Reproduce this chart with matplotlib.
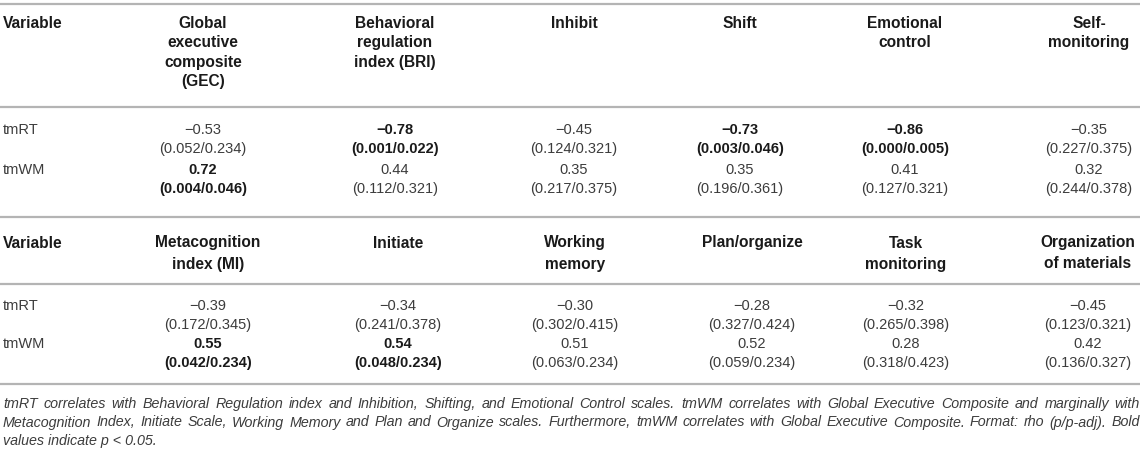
import matplotlib
matplotlib.use("Agg")
import matplotlib.pyplot as plt

# ---------------- data ----------------
row_labels = ["tmRT", "tmWM"]

headers1 = ["Global\nexecutive\ncomposite\n(GEC)", "Behavioral\nregulation\nindex (BRI)",
            "Inhibit", "Shift", "Emotional\ncontrol", "Self-\nmonitoring"]
rho1_rt = [-0.53, -0.78, -0.45, -0.73, -0.86, -0.35]
p1_rt = [0.052, 0.001, 0.124, 0.003, 0.000, 0.227]
padj1_rt = [0.234, 0.022, 0.321, 0.046, 0.005, 0.375]
rho1_wm = [0.72, 0.44, 0.35, 0.35, 0.41, 0.32]
p1_wm = [0.004, 0.112, 0.217, 0.196, 0.127, 0.244]
padj1_wm = [0.046, 0.321, 0.375, 0.361, 0.321, 0.378]

headers2 = ["Metacognition\nindex (MI)", "Initiate", "Working\nmemory",
            "Plan/organize", "Task\nmonitoring", "Organization\nof materials"]
rho2_rt = [-0.39, -0.34, -0.30, -0.28, -0.32, -0.45]
p2_rt = [0.172, 0.241, 0.302, 0.327, 0.265, 0.123]
padj2_rt = [0.345, 0.378, 0.415, 0.424, 0.398, 0.321]
rho2_wm = [0.55, 0.54, 0.51, 0.52, 0.28, 0.42]
p2_wm = [0.042, 0.048, 0.063, 0.059, 0.318, 0.136]
padj2_wm = [0.234, 0.234, 0.234, 0.234, 0.423, 0.327]

foot_lines = [
    "tmRT correlates with Behavioral Regulation index and Inhibition, Shifting, and Emotional Control scales. tmWM correlates with Global Executive Composite and marginally with",
    "Metacognition Index, Initiate Scale, Working Memory and Plan and Organize scales. Furthermore, tmWM correlates with Global Executive Composite. Format: rho (p/p-adj). Bold",
    "values indicate p < 0.05.",
]

# ---------------- layout ----------------
W, H = 1145, 462
FONT = "Liberation Sans"
HDR_SIZE = 11.2
VAL_SIZE = 10.5
FOOT_SIZE = 10.3
HDR_COLOR = "#1a1a1a"
VAL_COLOR = "#3c3c3c"
RULE_COLOR = "#b4b4b4"

x_left = 3
x_right = 1140
cols1 = [203, 395, 574, 740, 905, 1089]
cols2 = [208, 398, 575, 752, 906, 1088]

fig = plt.figure(figsize=(W / 100, H / 100), dpi=100)
ax = fig.add_axes([0, 0, 1, 1])
ax.set_xlim(0, W)
ax.set_ylim(H, 0)
ax.axis("off")


def rule(y):
    ax.plot([0, x_right], [y, y], color=RULE_COLOR, lw=1.6, solid_capstyle="butt")


def fmt_rho(v):
    s = f"{abs(v):.2f}"
    return ("\u2212" + s) if v < 0 else s


def draw_table(headers, cols, y_hdr, hdr_step, y_rows, data):
    ax.text(x_left, y_hdr, "Variable", ha="left", va="center", fontsize=HDR_SIZE,
            fontweight="bold", family=FONT, color=HDR_COLOR)
    for h, cx in zip(headers, cols):
        for i, line in enumerate(h.split("\n")):
            ax.text(cx, y_hdr + i * hdr_step, line, ha="center", va="center",
                    fontsize=HDR_SIZE, fontweight="bold", family=FONT, color=HDR_COLOR)
    for r, (label, (rho, p, padj)) in enumerate(zip(row_labels, data)):
        y1, y2 = y_rows[2 * r], y_rows[2 * r + 1]
        ax.text(x_left, y1, label, ha="left", va="center", fontsize=VAL_SIZE,
                family=FONT, color=VAL_COLOR)
        for cx, rv, pv, pa in zip(cols, rho, p, padj):
            bold = pv < 0.05
            wt = "bold" if bold else "normal"
            col = HDR_COLOR if bold else VAL_COLOR
            ax.text(cx, y1, fmt_rho(rv), ha="center", va="center", fontsize=VAL_SIZE,
                    fontweight=wt, family=FONT, color=col)
            ax.text(cx, y2, f"({pv:.3f}/{pa:.3f})", ha="center", va="center",
                    fontsize=VAL_SIZE, fontweight=wt, family=FONT, color=col)


rule(4)
draw_table(headers1, cols1, 23, 19.5, [130, 149.5, 169.5, 189],
           [(rho1_rt, p1_rt, padj1_rt), (rho1_wm, p1_wm, padj1_wm)])
rule(107)
rule(217)
draw_table(headers2, cols2, 243, 21, [306, 325, 344, 363],
           [(rho2_rt, p2_rt, padj2_rt), (rho2_wm, p2_wm, padj2_wm)])
rule(284)
rule(384)

# footnote, justified
renderer = fig.canvas.get_renderer()
foot_y = [404, 422.5, 441]
for li, (line, y) in enumerate(zip(foot_lines, foot_y)):
    if li < len(foot_lines) - 1:
        words = line.split(" ")
        texts = [ax.text(0, y, w, ha="left", va="center", fontsize=FOOT_SIZE,
                         style="italic", family=FONT, color=VAL_COLOR) for w in words]
        widths = [t.get_window_extent(renderer).width for t in texts]
        gap = (x_right - x_left - sum(widths)) / (len(words) - 1)
        x = x_left
        for t, w in zip(texts, widths):
            t.set_x(x)
            x += w + gap
    else:
        ax.text(x_left, y, line, ha="left", va="center", fontsize=FOOT_SIZE,
                style="italic", family=FONT, color=VAL_COLOR)

fig.savefig("out.png", dpi=100)
